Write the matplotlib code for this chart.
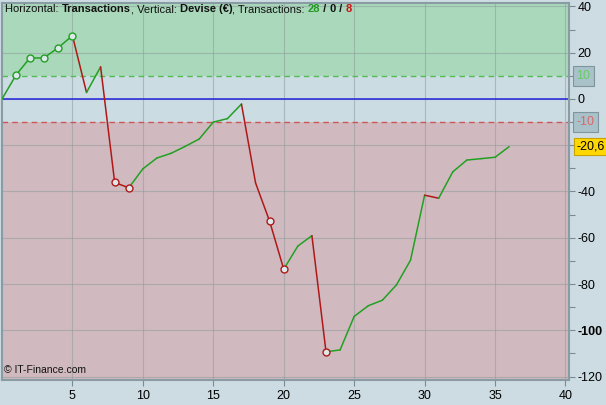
import matplotlib
matplotlib.use('Agg')
import matplotlib.pyplot as plt
import matplotlib.transforms as mtransforms
import numpy as np

plt.rcParams['font.family'] = ['Liberation Sans', 'DejaVu Sans']

# equity curve, one value per transaction (0 = start)
trades = list(range(0, 37))
equity = [0, 10.4, 17.9, 17.9, 22.2, 27.4, 2.8, 13.9, -36.1, -38.4,
          -30.2, -25.5, -23.5, -20.5, -17.3, -10.0, -8.5, -2.2, -36.3, -52.9,
          -73.6, -63.6, -59.1, -109.3, -108.5, -94.0, -89.4, -87.0, -80.4, -69.7,
          -41.6, -42.9, -31.5, -26.4, -25.8, -25.2, -20.6]
upper_band = 10
lower_band = -10
x_ticks = [5, 10, 15, 20, 25, 30, 35, 40]
y_ticks = [40, 20, 0, -20, -40, -60, -80, -100, -120]
n_win, n_even, n_loss = 28, 0, 8

C_BG     = '#cddce2'
C_GREENZ = '#a9d8ba'
C_MIDZ   = '#cbdce2'
C_REDZ   = '#d0bac0'
C_UP     = '#22a022'
C_DOWN   = '#b01818'
C_GRID   = '#8f9a9c'

fig = plt.figure(figsize=(6.06, 4.05), dpi=100)
fig.patch.set_facecolor(C_BG)
ax = fig.add_axes([2/606, 1 - 380/405, 567/606, 377/405])
ax.set_facecolor(C_MIDZ)

xmin, xmax = 0, 40.25
ymin, ymax = -121.5, 41.5
ax.set_xlim(xmin, xmax)
ax.set_ylim(ymin, ymax)

# zones
ax.axhspan(upper_band, ymax, color=C_GREENZ, zorder=0, lw=0)
ax.axhspan(ymin, lower_band, color=C_REDZ, zorder=0, lw=0)
ax.axhline(upper_band, color='#55bb55', lw=1, ls=(0, (4, 3)), zorder=1)
ax.axhline(lower_band, color='#cc5555', lw=1, ls=(0, (4, 3)), zorder=1)
ax.axhline(0, color='#2222dd', lw=1.1, zorder=1)

# grid
for xv in x_ticks:
    ax.axvline(xv, color=C_GRID, lw=0.8, alpha=0.55, zorder=0.5)
for yv in y_ticks:
    ax.axhline(yv, color=C_GRID, lw=0.8, alpha=0.55, zorder=0.5)

# equity line, green when rising, red when falling
for i in range(1, len(equity)):
    col = C_DOWN if equity[i] < equity[i - 1] else C_UP
    ax.plot(trades[i-1:i+1], equity[i-1:i+1], color=col, lw=1.1, zorder=3,
            solid_capstyle='round')

# circles on new highs / new lows
hi, lo = equity[0], equity[0]
for t, v in zip(trades[1:], equity[1:]):
    if v >= hi and v > 0:
        hi = v
        ax.plot(t, v, 'o', ms=5, mfc='#dce8ea', mec=C_UP, mew=1.0, zorder=4)
    elif v < lo:
        lo = v
        ax.plot(t, v, 'o', ms=5, mfc='#dce8ea', mec=C_DOWN, mew=1.0, zorder=4)

# axes styling
for sp in ax.spines.values():
    sp.set_color('#8a9ca3')
    sp.set_linewidth(1.5)
ax.yaxis.tick_right()
ax.set_yticks(y_ticks)
ax.set_yticks(np.arange(-110, 40, 20), minor=True)
# -20 is covered by the last-value box
ax.set_yticklabels(['' if v == -20 else str(v) for v in y_ticks], fontsize=9)
for lab in ax.get_yticklabels():
    if lab.get_text() == '-100':
        lab.set_fontweight('bold')
ax.tick_params(axis='y', which='both', direction='out', length=4, width=0.8,
               color='#7a8a90', pad=2)
ax.set_xticks(x_ticks)
ax.set_xticklabels([str(v) for v in x_ticks], fontsize=9)
ax.tick_params(axis='x', direction='out', length=4, width=0.8, color='#7a8a90', pad=3)

# value boxes on the right
trans = mtransforms.blended_transform_factory(ax.transAxes, ax.transData)
box_kw = dict(boxstyle='square,pad=0.3', fc='#a9c2ca', ec='#7f949b', lw=0.8)
ax.text(1.013, upper_band, '10', transform=trans, fontsize=9, color='#66cc66',
        va='center', ha='left', bbox=box_kw, clip_on=False)
ax.text(1.013, lower_band, '-10', transform=trans, fontsize=9, color='#dd6666',
        va='center', ha='left', bbox=box_kw, clip_on=False)
ax.text(1.013, equity[-1], f'{equity[-1]:.1f}'.replace('.', ','), transform=trans,
        fontsize=9, color='black', va='center', ha='left', clip_on=False,
        bbox=dict(boxstyle='square,pad=0.22', fc='#ffd700', ec='#c9a400', lw=0.8))

# header text with coloured parts
pieces = [('Horizontal: ', 'normal', '#111111'), ('Transactions', 'bold', '#111111'),
          (', Vertical: ', 'normal', '#111111'), ('Devise (€)', 'bold', '#111111'),
          (', Transactions: ', 'normal', '#111111'), (str(n_win), 'bold', '#229922'),
          (' / ', 'bold', '#111111'), (str(n_even), 'bold', '#111111'),
          (' / ', 'bold', '#111111'), (str(n_loss), 'bold', '#cc1111')]
renderer = fig.canvas.get_renderer()
xpix = 5
for txt, w, col in pieces:
    t = fig.text(xpix / 606, 1 - 9.5 / 405, txt, fontsize=8, fontweight=w, color=col,
                 va='center', ha='left')
    bb = t.get_window_extent(renderer=renderer)
    xpix = bb.x1

ax.text(2 / 567, 0.012, '© IT-Finance.com', transform=ax.transAxes, fontsize=7.5,
        color='#111111', va='bottom', ha='left')

fig.savefig('out.png', dpi=100, facecolor=C_BG)
